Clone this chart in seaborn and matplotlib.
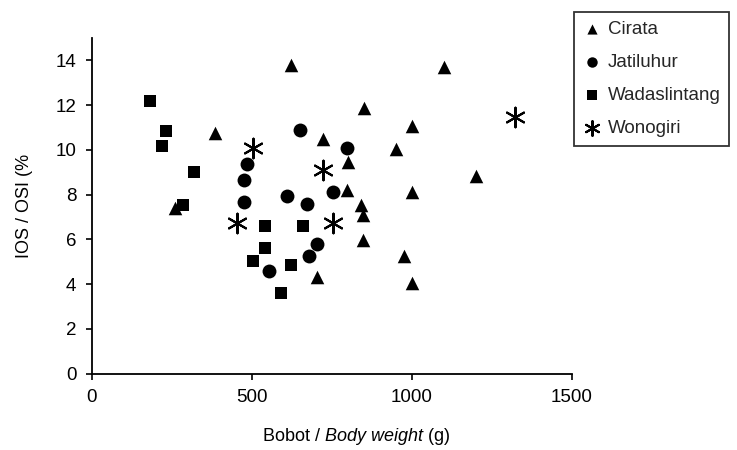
import numpy as np
import pandas as pd
import seaborn as sns
import matplotlib
matplotlib.use("Agg")
import matplotlib.pyplot as plt

# ----------------------------------------
# data
# ----------------------------------------

cirata_w = [622, 1101, 851, 1000, 385, 724, 950, 800, 1201, 799, 1000, 842, 849, 261, 849, 974, 703, 1000]
cirata_ios = [13.8, 13.7, 11.85, 11.05, 10.75, 10.5, 10.05, 9.45, 8.85, 8.2, 8.1, 7.55, 7.1, 7.4, 5.95, 5.25, 4.3, 4.05]

jatiluhur_w = [652, 799, 484, 477, 609, 753, 477, 672, 703, 679, 554]
jatiluhur_ios = [10.9, 10.1, 9.35, 8.65, 7.95, 8.1, 7.65, 7.6, 5.8, 5.25, 4.6]

wadas_w = [182, 232, 221, 321, 286, 541, 659, 541, 503, 622, 591]
wadas_ios = [12.2, 10.85, 10.15, 9.0, 7.55, 6.6, 6.6, 5.6, 5.05, 4.85, 3.6]

wonogiri_w = [503, 722, 1321, 453, 755]
wonogiri_ios = [10.1, 9.1, 11.45, 6.75, 6.75]

SITES = ["Cirata", "Jatiluhur", "Wadaslintang", "Wonogiri"]
WEIGHTS = [cirata_w, jatiluhur_w, wadas_w, wonogiri_w]
IOS = [cirata_ios, jatiluhur_ios, wadas_ios, wonogiri_ios]

frames = []
for site, w, ios in zip(SITES, WEIGHTS, IOS):
    frames.append(pd.DataFrame({"weight": w, "ios": ios, "site": site}))
df = pd.concat(frames, ignore_index=True)

# ----------------------------------------
# plot
# ----------------------------------------

sns.set_theme(style="ticks")
plt.rcParams["font.family"] = ["Liberation Sans", "DejaVu Sans"]
plt.rcParams["mathtext.fontset"] = "custom"
plt.rcParams["mathtext.rm"] = "Liberation Sans"
plt.rcParams["mathtext.it"] = "Liberation Sans:italic"

fig = plt.figure(figsize=(7.37, 4.5), dpi=100)
ax = fig.add_axes([0.1244, 0.170, 0.6516, 0.7456])

marker_style = {
    "Cirata": dict(marker="^", s=95, linewidth=0),
    "Jatiluhur": dict(marker="o", s=100, linewidth=0),
    "Wadaslintang": dict(marker="s", s=85, linewidth=0),
    "Wonogiri": dict(marker=(6, 2, 0), s=200, linewidth=1.5),
}

for site in SITES:
    sub = df[df["site"] == site]
    sns.scatterplot(data=sub, x="weight", y="ios", color="black",
                    edgecolor="black", label=site, ax=ax, **marker_style[site])

ax.set_xlim(0, 1500)
ax.set_ylim(0, 15)
ax.set_xticks([0, 500, 1000, 1500])
ax.set_yticks(np.arange(0, 15, 2))
sns.despine(ax=ax)
for sp in ["left", "bottom"]:
    ax.spines[sp].set_color("black")
    ax.spines[sp].set_linewidth(1.3)
ax.tick_params(axis="both", colors="black", labelsize=13.5, length=4, width=1.2, pad=7)

ax.set_xlabel("Bobot / $\\it{Body\\ weight}$ (g)", fontsize=13, color="black")
ax.xaxis.set_label_coords(0.55, -0.155)
ax.set_ylabel("IOS / OSI (%", fontsize=13, color="black", labelpad=16)

leg = ax.legend(loc="upper left", bbox_to_anchor=(574 / 737, 1 - 12 / 450),
                bbox_transform=fig.transFigure, frameon=True, fancybox=False,
                fontsize=13.5, markerscale=0.75, handletextpad=0.35,
                labelspacing=0.86, borderpad=0.45, handlelength=1.0,
                borderaxespad=0)
leg.get_frame().set_edgecolor("black")
leg.get_frame().set_linewidth(1.3)

fig.savefig("out.png", dpi=100)
